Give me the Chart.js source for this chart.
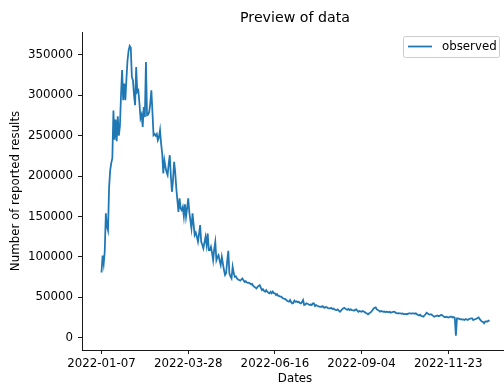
<!DOCTYPE html>
<html>
<head>
<meta charset="utf-8">
<script src="https://cdn.jsdelivr.net/npm/chart.js@4/dist/chart.umd.min.js"></script>
<style>
html,body{margin:0;padding:0;background:#fff;overflow:hidden;}
canvas{display:block;}
</style>
</head>
<body>
<canvas id="c" width="504" height="384"></canvas>
<script>
// Data (daily number of reported results starting 2022-01-07)
const startDate = '2022-01-07';
const observed = [
  80630,101503,91477,107134,153880,137586,132726,186000,207000,216000,
  222000,281000,245000,270000,243000,274000,250000,262000,300000,331000,
  293800,314400,293800,320000,343200,355000,361000,359000,322600,318500,
  300000,287600,335000,304000,306000,290000,271500,276000,260800,285500,
  273000,341100,275200,276000,279300,290000,306100,279300,250500,252000,
  249900,252000,244300,248000,256700,240000,227900,203200,219600,211400,
  205000,201100,215000,225800,200000,180500,195000,217500,205000,185000,
  170200,155700,172300,160000,157800,161900,150000,165000,149600,160000,
  172300,155700,145000,135200,153800,140000,126900,130000,125000,118700,
  128000,139300,118700,115000,110500,118000,124800,114600,129000,108400,
  108400,112500,105000,96000,110000,118700,96000,100000,102200,95000,
  89900,100100,92000,83700,77500,80000,95000,107500,79600,76000,
  73400,87800,80000,75400,76000,73400,72000,71300,70500,72000,
  73400,71000,69200,70000,68500,67800,68000,67200,66000,66500,
  64000,63000,62000,61000,63000,64000,65100,62000,59000,60000,
  58000,56900,59000,57000,55500,54900,56900,55000,57000,55000,
  54900,52800,54000,52000,51500,50700,50700,49000,48500,48000,
  47500,46000,45000,44500,46600,44000,42500,43000,46000,44500,
  45000,44000,44500,43000,42500,44000,46600,40400,41000,42500,
  42000,41500,40400,41000,40400,42500,42500,39200,40400,39500,
  39000,38500,38300,38300,39000,37500,37000,38000,37500,36500,
  36300,36300,37000,35500,36000,35000,34500,34200,35000,33400,
  32200,33500,35000,36300,37100,36000,35000,34500,35500,34200,
  35100,34200,34000,33300,34500,35100,33500,32100,33000,32500,
  32100,33000,32500,31500,30500,30000,28900,30200,31000,32300,
  34000,36000,37100,37600,35000,34400,33500,32200,33000,32500,
  32000,32500,31500,32100,32000,31500,32000,31000,31500,32000,
  32100,31500,30500,30200,30500,30000,30200,29500,30000,29300,
  29300,29500,29000,29800,30000,30200,29800,30200,30000,29500,
  30200,29000,28000,27500,28500,27000,26500,26000,27500,29000,
  30900,30000,29000,28500,29000,28000,27000,26000,26500,27000,
  27500,26500,27000,28000,28100,27000,26000,25200,26000,25500,
  25000,25500,26000,26000,25000,25500,24500,2569,24000,24000,
  23500,22700,23000,22500,22700,22000,23000,22500,22000,23000,
  23500,24000,24000,21800,22500,23000,23500,24500,25200,23000,
  21500,20000,19500,17800,20000,20160,20001,21204,20380
];
const xTickDays = [0, 80, 160, 240, 320];
const xTickLabels = ['2022-01-07', '2022-03-28', '2022-06-16', '2022-09-04', '2022-11-23'];
const yTicks = [0, 50000, 100000, 150000, 200000, 250000, 300000, 350000];
const seriesName = 'observed';

const FONT = "'DejaVu Sans', sans-serif";
const LINE = '#1f77b4';
const FS = 11.8;

const points = observed.map((v, i) => ({x: i, y: v}));

const textPlugin = {
  id: 'texts',
  afterDraw(chart) {
    const ctx = chart.ctx;
    ctx.save();
    ctx.fillStyle = '#000';
    ctx.textAlign = 'center';
    ctx.textBaseline = 'middle';
    ctx.font = '14.2px ' + FONT;
    ctx.fillText('Preview of data', 295, 18);
    ctx.font = FS + 'px ' + FONT;
    ctx.fillText('Dates', 295, 379);
    ctx.save();
    ctx.translate(16, 191);
    ctx.rotate(-Math.PI / 2);
    ctx.fillText('Number of reported results', 0, 0);
    ctx.restore();
    // legend
    const lx = 403.5, ly = 36.5, lw = 96, lh = 21, r = 2;
    ctx.beginPath();
    ctx.moveTo(lx + r, ly);
    ctx.lineTo(lx + lw - r, ly);
    ctx.quadraticCurveTo(lx + lw, ly, lx + lw, ly + r);
    ctx.lineTo(lx + lw, ly + lh - r);
    ctx.quadraticCurveTo(lx + lw, ly + lh, lx + lw - r, ly + lh);
    ctx.lineTo(lx + r, ly + lh);
    ctx.quadraticCurveTo(lx, ly + lh, lx, ly + lh - r);
    ctx.lineTo(lx, ly + r);
    ctx.quadraticCurveTo(lx, ly, lx + r, ly);
    ctx.closePath();
    ctx.fillStyle = 'rgba(255,255,255,0.8)';
    ctx.fill();
    ctx.strokeStyle = '#cccccc';
    ctx.lineWidth = 1;
    ctx.stroke();
    ctx.beginPath();
    ctx.moveTo(408, 46.5);
    ctx.lineTo(432, 46.5);
    ctx.strokeStyle = LINE;
    ctx.lineWidth = 1.77;
    ctx.stroke();
    ctx.fillStyle = '#000';
    ctx.textAlign = 'left';
    ctx.font = FS + 'px ' + FONT;
    ctx.fillText(seriesName, 442, 47);
    ctx.restore();
  }
};

new Chart(document.getElementById('c'), {
  type: 'line',
  data: {
    datasets: [{
      label: seriesName,
      data: points,
      borderColor: LINE,
      backgroundColor: LINE,
      borderWidth: 1.77,
      pointRadius: 0,
      tension: 0,
      fill: false
    }]
  },
  options: {
    responsive: false,
    animation: false,
    devicePixelRatio: 1,
    layout: {padding: {top: 32, right: 0, bottom: 0, left: 0}},
    plugins: {
      legend: {display: false},
      title: {display: false},
      tooltip: {enabled: false}
    },
    scales: {
      x: {
        type: 'linear',
        min: -18,
        max: 371.4,
        afterBuildTicks: s => { s.ticks = xTickDays.map(v => ({value: v})); },
        afterFit: s => { s.height = 34; },
        ticks: {
          autoSkip: false,
          maxRotation: 0,
          padding: 3,
          color: '#000',
          font: {family: FONT, size: FS},
          callback: v => xTickLabels[xTickDays.indexOf(v)]
        },
        grid: {drawOnChartArea: false, drawTicks: true, tickLength: 4, tickColor: '#000', tickWidth: 0.9},
        border: {display: true, color: '#000', width: 0.9}
      },
      y: {
        min: -15200,
        max: 378200,
        afterBuildTicks: s => { s.ticks = yTicks.map(v => ({value: v})); },
        afterFit: s => { s.width = 82; },
        ticks: {
          autoSkip: false,
          padding: 5,
          color: '#000',
          font: {family: FONT, size: FS},
          callback: v => String(v)
        },
        grid: {drawOnChartArea: false, drawTicks: true, tickLength: 4, tickColor: '#000', tickWidth: 0.9},
        border: {display: true, color: '#000', width: 0.9}
      }
    }
  },
  plugins: [textPlugin]
});
</script>
</body>
</html>
